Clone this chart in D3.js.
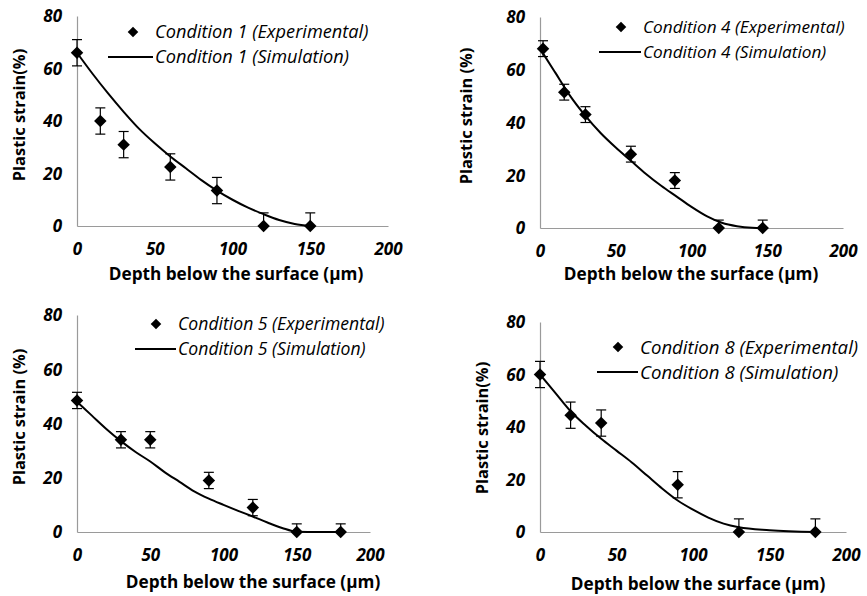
<!DOCTYPE html>
<html>
<head>
<meta charset="utf-8">
<script src="https://cdn.jsdelivr.net/npm/d3@7"></script>
<style>
  body { margin: 0; background: #fff; }
  svg text { font-family: "Open Sans", sans-serif; }
</style>
</head>
<body>
<svg id="chart" width="867" height="596"></svg>
<script>
// ---- data ----
const xTicks = [0, 50, 100, 150, 200];
const yTicks = [0, 20, 40, 60, 80];

const cond1Exp = [[0, 66], [15, 40], [30, 31], [60, 22.5], [90, 13.5], [120, 0], [150, 0]];
const cond1Err = [5, 5, 5, 5, 5, 5, 5];
const cond1Sim = [[0, 66], [10, 58], [20, 50.5], [30, 43.5], [40, 37], [50, 31.5], [60, 26.5], [70, 22], [80, 17.5], [90, 13.5], [100, 10], [110, 7], [120, 4.5], [130, 2.3], [140, 0.8], [150, 0]];

const cond4Exp = [[2, 68], [16, 51.5], [30, 43], [60, 28], [89, 18], [118, 0], [147, 0]];
const cond4Err = [3, 3, 3, 3, 3, 3, 3];
const cond4Sim = [[0, 68], [10, 59], [20, 50], [30, 42.5], [40, 36], [50, 30.5], [60, 25.5], [70, 20.5], [80, 16], [90, 12], [100, 8], [110, 4.5], [120, 2], [130, 0.7], [140, 0.1], [147, 0]];

const cond5Exp = [[0, 48.5], [30, 34], [50, 34], [90, 19], [120, 9], [150, 0], [180, 0]];
const cond5Err = [3, 3, 3, 3, 3, 3, 3];
const cond5Sim = [[0, 48], [10, 43], [20, 38], [30, 33.5], [40, 29.5], [50, 26], [60, 22], [70, 18.5], [80, 15], [90, 12.3], [100, 10], [110, 7.8], [120, 5.7], [130, 3.5], [140, 1.5], [150, 0.1], [165, 0], [180, 0]];

const cond8Exp = [[0, 60], [20, 44.5], [40, 41.5], [90, 18], [130, 0], [180, 0]];
const cond8Err = [5, 5, 5, 5, 5, 5];
const cond8Sim = [[0, 60], [10, 53], [20, 46], [30, 40.5], [40, 35.5], [50, 31], [60, 26.5], [70, 21.5], [80, 16.5], [90, 12], [100, 8.5], [110, 5.5], [120, 3.2], [130, 1.8], [150, 0.7], [180, 0]];

// ---- layout of the four panels ----
const panels = [
  { exp: cond1Exp, err: cond1Err, sim: cond1Sim, name: "Condition 1", ylab: "Plastic strain(%)",
    x0: 77, x1: 388, y0: 226, y1: 16, legX: 133, legY: 32, lineX0: 108, fs: 18.2,
    ylabX: 25, ylabY: 115, xlabX: 236, xlabY: 280 },
  { exp: cond4Exp, err: cond4Err, sim: cond4Sim, name: "Condition 4", ylab: "Plastic strain (%)",
    x0: 540, x1: 843, y0: 228, y1: 17, legX: 621, legY: 27, lineX0: 599, fs: 17.2,
    ylabX: 472, ylabY: 116, xlabX: 691, xlabY: 280 },
  { exp: cond5Exp, err: cond5Err, sim: cond5Sim, name: "Condition 5", ylab: "Plastic strain (%)",
    x0: 77, x1: 370, y0: 532, y1: 315, legX: 156, legY: 324, lineX0: 135, fs: 17.6,
    ylabX: 25, ylabY: 417, xlabX: 253, xlabY: 588 },
  { exp: cond8Exp, err: cond8Err, sim: cond8Sim, name: "Condition 8", ylab: "Plastic strain(%)",
    x0: 540, x1: 846, y0: 532, y1: 322, legX: 618, legY: 347, lineX0: 597, fs: 18.6,
    ylabX: 488, ylabY: 428, xlabX: 698, xlabY: 590 }
];

const svg = d3.select("#chart");

panels.forEach(p => {
  const g = svg.append("g");
  const x = d3.scaleLinear().domain([0, 200]).range([p.x0, p.x1]);
  const y = d3.scaleLinear().domain([0, 80]).range([p.y0, p.y1]);

  // axes: plain grey lines, no ticks
  const xAxis = d3.axisBottom(x).tickValues(xTicks).tickSize(0).tickPadding(17);
  const yAxis = d3.axisLeft(y).tickValues(yTicks).tickSize(0).tickPadding(15);

  const gx = g.append("g").attr("transform", `translate(0,${p.y0})`).call(xAxis);
  const gy = g.append("g").attr("transform", `translate(${p.x0},0)`).call(yAxis);
  [gx, gy].forEach(a => {
    a.select(".domain").attr("stroke", "#9a9a9a").attr("stroke-width", 1.2);
    a.selectAll("text")
      .style("font-size", "17px").style("font-weight", "bold").style("font-style", "italic")
      .attr("fill", "#000");
  });
  gy.selectAll("text").attr("dy", "0.35em");

  // axis titles
  g.append("text")
    .attr("x", p.xlabX).attr("y", p.xlabY)
    .attr("text-anchor", "middle")
    .style("font-size", "17.2px").style("font-weight", "bold")
    .text("Depth below the surface (\u00b5m)");
  g.append("text")
    .attr("transform", `translate(${p.ylabX},${p.ylabY}) rotate(-90)`)
    .attr("text-anchor", "middle")
    .style("font-size", "16.4px").style("font-weight", "bold")
    .text(p.ylab);

  // simulation curve
  const line = d3.line().x(d => x(d[0])).y(d => y(d[1])).curve(d3.curveMonotoneX);
  g.append("path").datum(p.sim)
    .attr("d", line).attr("fill", "none").attr("stroke", "#000").attr("stroke-width", 2);

  // error bars (clipped at the 0 axis)
  const bars = g.append("g").selectAll("g")
    .data(p.exp.map((d, i) => ({ x: d[0], v: d[1], e: p.err[i] })))
    .join("g");
  bars.append("line")
    .attr("x1", d => x(d.x)).attr("x2", d => x(d.x))
    .attr("y1", d => y(d.v + d.e)).attr("y2", d => y(Math.max(0, d.v - d.e)))
    .attr("stroke", "#000").attr("stroke-width", 1.2);
  bars.append("line")
    .attr("x1", d => x(d.x) - 5).attr("x2", d => x(d.x) + 5)
    .attr("y1", d => y(d.v + d.e)).attr("y2", d => y(d.v + d.e))
    .attr("stroke", "#000").attr("stroke-width", 1.2);
  bars.filter(d => d.v > 0).append("line")
    .attr("x1", d => x(d.x) - 5).attr("x2", d => x(d.x) + 5)
    .attr("y1", d => y(d.v - d.e)).attr("y2", d => y(d.v - d.e))
    .attr("stroke", "#000").attr("stroke-width", 1.2);

  // diamond markers
  const diamond = d3.symbol().type(d3.symbolSquare).size(78);
  g.append("g").selectAll("path").data(p.exp).join("path")
    .attr("d", diamond)
    .attr("transform", d => `translate(${x(d[0])},${y(d[1])}) rotate(45)`)
    .attr("fill", "#000");

  // legend
  const textX = p.legX + 22;
  g.append("path").attr("d", d3.symbol().type(d3.symbolSquare).size(56))
    .attr("transform", `translate(${p.legX},${p.legY}) rotate(45)`).attr("fill", "#000");
  g.append("text").attr("x", textX).attr("y", p.legY).attr("dy", "0.35em")
    .style("font-size", p.fs + "px").style("font-style", "italic")
    .text(`${p.name} (Experimental)`);
  g.append("line").attr("x1", p.lineX0).attr("x2", textX - 2)
    .attr("y1", p.legY + 25).attr("y2", p.legY + 25)
    .attr("stroke", "#000").attr("stroke-width", 2);
  g.append("text").attr("x", textX).attr("y", p.legY + 25).attr("dy", "0.35em")
    .style("font-size", p.fs + "px").style("font-style", "italic")
    .text(`${p.name} (Simulation)`);
});
</script>
</body>
</html>
